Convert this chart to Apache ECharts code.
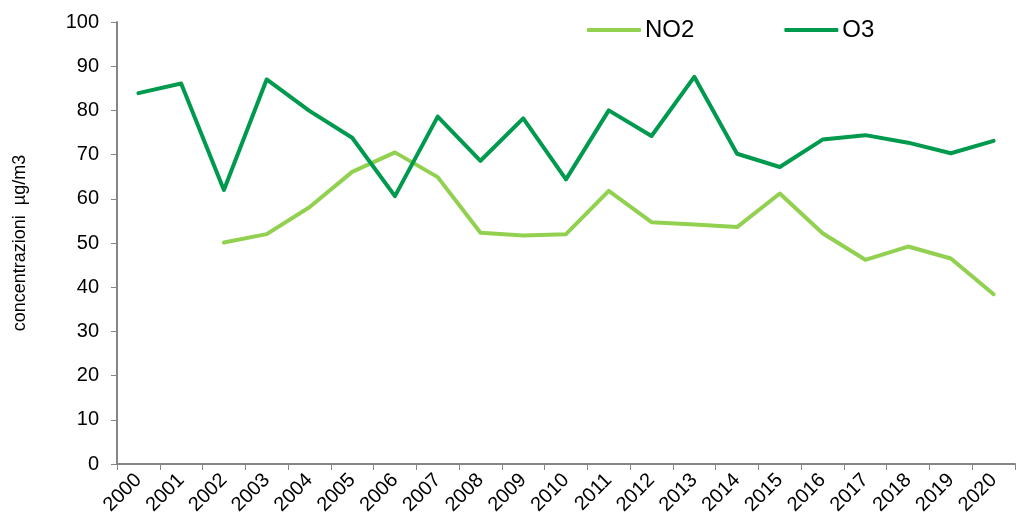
<!DOCTYPE html>
<html>
<head>
<meta charset="utf-8">
<script src="https://cdn.jsdelivr.net/npm/echarts@6/dist/echarts.min.js"></script>
<style>
  html, body { margin: 0; padding: 0; background: #fff; }
  #main { width: 1017px; height: 525px; }
</style>
</head>
<body>
<div id="main"></div>
<script>
// anni
var years = ['2000','2001','2002','2003','2004','2005','2006','2007','2008','2009','2010',
             '2011','2012','2013','2014','2015','2016','2017','2018','2019','2020'];
// NO2 (manca 2000-2001)
var no2 = [null, null, 50.1, 52.0, 58.1, 66.1, 70.5, 64.9, 52.3, 51.7, 52.0,
           61.8, 54.7, 54.2, 53.6, 61.2, 52.2, 46.2, 49.2, 46.5, 38.4];
// O3
var o3 = [83.9, 86.1, 62.0, 87.0, 79.9, 73.8, 60.6, 78.6, 68.6, 78.2, 64.4,
          80.0, 74.2, 87.6, 70.2, 67.2, 73.4, 74.4, 72.7, 70.3, 73.1];
var yTicks = [0, 10, 20, 30, 40, 50, 60, 70, 80, 90, 100];

var font = 'Liberation Sans, Arial, sans-serif';
var chart = echarts.init(document.getElementById('main'));

chart.setOption({
    animation: false,
    backgroundColor: '#fff',
    legend: {
        top: 13,
        left: 582,
        itemGap: 90,
        itemWidth: 54,
        itemHeight: 4,
        icon: 'roundRect',
        textStyle: { color: '#000', fontSize: 24, fontFamily: font, padding: [0, 0, 0, -1] },
        data: ['NO2', 'O3']
    },
    grid: {
        left: 117,
        right: 2,
        top: 22,
        bottom: 61
    },
    xAxis: {
        type: 'category',
        data: years,
        boundaryGap: true,
        axisLine: { lineStyle: { color: '#868686', width: 2 } },
        axisTick: { show: true, alignWithLabel: false, length: 6, lineStyle: { color: '#868686' } },
        axisLabel: {
            interval: 0,
            rotate: 45,
            color: '#000',
            fontSize: 20,
            fontFamily: font,
            margin: 13
        },
        splitLine: { show: false }
    },
    yAxis: {
        type: 'value',
        min: yTicks[0],
        max: yTicks[yTicks.length - 1],
        interval: 10,
        name: 'concentrazioni  µg/m3',
        nameLocation: 'middle',
        nameGap: 88,
        nameRotate: 90,
        nameTextStyle: { color: '#000', fontSize: 18, fontFamily: font },
        axisLine: { show: true, lineStyle: { color: '#868686', width: 2 } },
        axisTick: { show: true, length: 6, lineStyle: { color: '#868686' } },
        axisLabel: { color: '#000', fontSize: 20, fontFamily: font, margin: 18 },
        splitLine: { show: false }
    },
    series: [{
        name: 'NO2',
        type: 'line',
        data: no2,
        symbol: 'none',
        connectNulls: false,
        lineStyle: { color: '#92D050', width: 4, cap: 'round', join: 'round' },
        itemStyle: { color: '#92D050' }
    }, {
        name: 'O3',
        type: 'line',
        data: o3,
        symbol: 'none',
        lineStyle: { color: '#009A4E', width: 4, cap: 'round', join: 'round' },
        itemStyle: { color: '#009A4E' }
    }]
});
</script>
</body>
</html>
